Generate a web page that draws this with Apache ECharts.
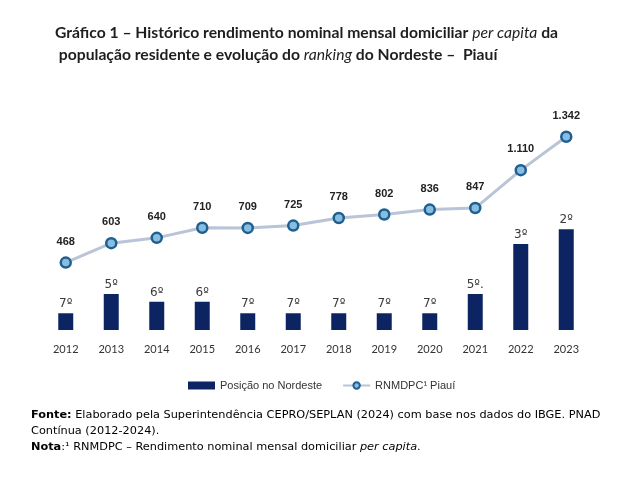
<!DOCTYPE html>
<html>
<head>
<meta charset="utf-8">
<script src="https://cdn.jsdelivr.net/npm/echarts@6/dist/echarts.min.js"></script>
<style>html,body{margin:0;padding:0;background:#fff;}#c{width:640px;height:480px;}</style>
</head>
<body>
<div id="c"></div>
<script>
var years = ['2012','2013','2014','2015','2016','2017','2018','2019','2020','2021','2022','2023'];
var rankLabels = ['7º','5º','6º','6º','7º','7º','7º','7º','7º','5º.','3º','2º'];
var barValues = [0.93, 2.0, 1.57, 1.57, 0.93, 0.93, 0.93, 0.93, 0.93, 2.0, 4.78, 5.6];
var incomeValues = [468, 603, 640, 710, 709, 725, 778, 802, 836, 847, 1110, 1342];

var chart = echarts.init(document.getElementById('c'));
function fmt(v){ return String(v).replace(/\B(?=(\d{3})+(?!\d))/g, '.'); }
var F = 'Lato, "DejaVu Sans", sans-serif';
var FW = '"DejaVu Sans", sans-serif';
var FA = 'Arial, "Liberation Sans", sans-serif';
chart.setOption({
  animation: false,
  backgroundColor: '#fff',
  title: {
    left: 50, top: 17,
    text: '{b|Gráfico 1 – Histórico rendimento nominal mensal domiciliar }{bi|per capita}{b| da}\n{b| população residente e evolução do }{bi|ranking}{b| do Nordeste –  Piauí}',
    textStyle: {
      rich: {
        b: {fontFamily: F, fontWeight: 'bold', fontSize: 15.7, color: '#1e1e1e', lineHeight: 22},
        bi: {fontFamily: F, fontWeight: 'normal', fontStyle: 'italic', fontSize: 15.7, color: '#1e1e1e', lineHeight: 22}
      }
    }
  },
  legend: {
    left: 183, top: 375,
    itemWidth: 27, itemHeight: 8, itemGap: 20,
    textStyle: {fontFamily: FA, fontSize: 11, color: '#333'},
    data: [
      {name: 'Posição no Nordeste', icon: 'rect'},
      {name: 'RNMDPC¹ Piauí'}
    ]
  },
  grid: {left: 43, right: 51, top: 114, bottom: 150},
  xAxis: {
    type: 'category', data: years,
    axisLine: {show: false}, axisTick: {show: false},
    axisLabel: {fontFamily: F, fontSize: 11, color: '#333', margin: 14}
  },
  yAxis: [
    {type: 'value', min: 0, max: 12, show: false, splitLine: {show: false}},
    {type: 'value', min: 0, max: 1500, show: false, splitLine: {show: false}}
  ],
  series: [
    {
      name: 'Posição no Nordeste', type: 'bar', yAxisIndex: 0,
      data: barValues, barWidth: 15,
      itemStyle: {color: '#0c2461'},
      label: {
        show: true, position: 'top', distance: 3,
        fontFamily: FW, fontSize: 12, color: '#3a3a3a',
        formatter: function(p){ return rankLabels[p.dataIndex]; }
      }
    },
    {
      name: 'RNMDPC¹ Piauí', type: 'line', yAxisIndex: 1,
      data: incomeValues,
      symbol: 'circle', symbolSize: 10,
      lineStyle: {color: '#b9c4d6', width: 3},
      itemStyle: {color: '#86bde0', borderColor: '#1f5f8f', borderWidth: 2.5},
      label: {
        show: true, position: 'top', distance: 9,
        fontFamily: FA, fontWeight: 'bold', fontSize: 11, color: '#222',
        formatter: function(p){ return fmt(p.value); }
      }
    }
  ],
  graphic: [
    {
      type: 'text', left: 31, top: 410,
      style: {
        text: '{b|Fonte:}{n| Elaborado pela Superintendência CEPRO/SEPLAN (2024) com base nos dados do IBGE. PNAD}\n{n|Contínua (2012-2024).}\n{b|Nota}{n|:¹ RNMDPC – Rendimento nominal mensal domiciliar }{i|per capita}{n|.}',
        rich: {
          b: {fontFamily: FW, fontWeight: 'bold', fontSize: 11.3, color: '#222', lineHeight: 16},
          n: {fontFamily: FW, fontSize: 11.3, color: '#333', lineHeight: 16},
          i: {fontFamily: FW, fontStyle: 'italic', fontSize: 11.3, color: '#333', lineHeight: 16}
        }
      }
    }
  ]
});
</script>
</body>
</html>
